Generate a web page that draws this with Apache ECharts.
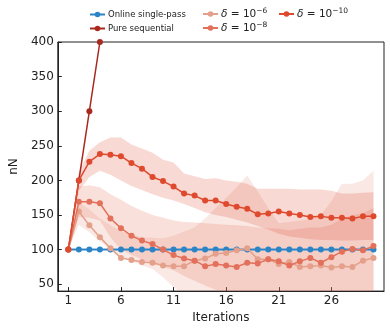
<!DOCTYPE html>
<html>
<head>
<meta charset="utf-8">
<script src="https://cdn.jsdelivr.net/npm/echarts@6/dist/echarts.min.js"></script>
<style>html,body{margin:0;padding:0;background:#fff}#c{width:390px;height:329px}</style>
</head>
<body>
<div id="c"></div>
<script>
const iterations = [1,2,3,4,5,6,7,8,9,10,11,12,13,14,15,16,17,18,19,20,21,22,23,24,25,26,27,28,29,30];
const xTicks = [1,6,11,16,21,26];
const yTicks = [50,100,150,200,250,300,350,400];

const onlineMean = [100,100,100,100,100,100,100,100,100,100,100,100,100,100,100,100,100,100,100,100,100,100,100,100,100,100,100,100,100,100];
const onlineLower = [98,98,98,98,98,98,98,98,98,98,98,98,98,98,98,98,98,98,98,98,98,98,98,98,98,98,98,98,98,98];
const onlineUpper = [102,102,102,102,102,102,102,102,102,102,102,102,102,102,102,102,102,102,102,102,102,102,102,102,102,102,102,102,102,102];

const seqIter = [1,2,3,4];
const seqMean = [100,200,300,400];

const d6Mean  = [100,155,135,118,102,88,85,82,81,77,76,76,84,87,94,95,99,102,86,86,79,82,75,76,77,74,76,75,84,88];
const d6Lower = [100,136,125,112,100,90,83,77,72,60,46,35,30,25,22,20,18,18,18,18,18,18,18,18,18,18,18,18,18,18];
const d6Upper = [100,168,158,145,135,126,122,118,117,116,120,126,132,145,160,175,190,207,184,160,138,140,142,144,150,170,195,195,200,214];

const d8Mean  = [100,169,169,167,145,131,120,113,108,100,92,87,84,76,79,77,75,81,80,86,83,77,83,88,81,89,97,101,99,105];
const d8Lower = [100,147,146,142,118,100,92,86,80,75,70,62,55,48,42,38,35,32,32,32,32,32,32,32,32,34,36,38,38,38];
const d8Upper = [100,191,193,190,180,172,163,156,150,146,142,140,139,138,137,136,135,134,132,131,130,128,130,132,132,136,145,150,152,160];

const d10Mean  = [100,200,227,238,237,235,225,217,205,199,191,181,178,171,171,166,162,159,151,152,155,152,150,147,148,146,146,145,148,148];
const d10Lower = [100,185,205,214,208,200,192,186,180,175,171,166,160,154,150,147,143,139,134,129,123,119,117,115,114,114,113,113,114,114];
const d10Upper = [100,212,243,255,262,262,252,246,240,230,226,210,206,202,203,200,198,195,188,188,188,188,187,187,187,185,181,181,182,183];

const names = ['Online single-pass','Pure sequential','δ = 10^-6','δ = 10^-8','δ = 10^-10'];
const colors = {
  online: '#2b84c6', seq: '#a9291f', d6: '#e4a08b', d8: '#e2705a', d10: '#df4a2f'
};

function pairs(xs, ys){ return xs.map((x,i)=>[x, ys[i]]); }

function band(name, xs, lower, upper, fill){
  return {
    type: 'custom', name: name, silent: true, clip: true, z: 1,
    data: [[xs[0], lower[0]]],
    renderItem: function(params, api){
      const pts = [];
      for (let i=0;i<xs.length;i++) pts.push(api.coord([xs[i], upper[i]]));
      for (let i=xs.length-1;i>=0;i--) pts.push(api.coord([xs[i], lower[i]]));
      const cs = params.coordSys;
      return {
        type: 'polygon', shape: { points: pts },
        style: { fill: fill, stroke: null },
        clipPath: { type: 'rect', shape: { x: cs.x, y: cs.y, width: cs.width, height: cs.height } }
      };
    }
  };
}

function line(name, xs, ys, color, z){
  return {
    type: 'line', name: name, data: pairs(xs, ys), z: z,
    symbol: 'circle', symbolSize: 6, showSymbol: true,
    lineStyle: { color: color, width: 1.5 },
    itemStyle: { color: color },
    emphasis: { disabled: true },
    animation: false, clip: true
  };
}

const richText = {
  t: { fontFamily: 'DejaVu Sans', fontSize: 8.5, color: '#222' },
  g: { fontFamily: 'DejaVu Sans', fontSize: 10.5, fontStyle: 'italic', color: '#222', lineHeight: 14 },
  m: { fontFamily: 'DejaVu Sans', fontSize: 10.5, color: '#222', lineHeight: 14 },
  s: { fontFamily: 'DejaVu Sans', fontSize: 7.5, color: '#222', verticalAlign: 'top', padding: [0,0,5,0], lineHeight: 14 }
};
function fmt(n){
  if (n.indexOf('^') >= 0){
    const exp = n.split('^')[1].replace('-', '−');
    return '{g|δ}{m| = 10}{s|' + exp + '}';
  }
  return '{t|' + n + '}';
}
const legendBase = {
  orient: 'vertical', itemWidth: 15, itemHeight: 7, itemGap: 0, padding: 0,
  formatter: fmt, textStyle: { rich: richText, padding: [0,0,0,-2] },
  selectedMode: false
};
function lg(left, top, name){ return Object.assign({}, legendBase, { left: left, top: top, data: [name] }); }

const option = {
  animation: false,
  backgroundColor: '#fff',
  legend: [
    lg(89, 10, names[0]),
    lg(89, 24, names[1]),
    lg(202, 7, names[2]),
    lg(202, 21, names[3]),
    lg(278, 7, names[4])
  ],
  grid: { left: 48, right: 6, top: 42, bottom: 36, show: true, borderColor: '#222', borderWidth: 1, backgroundColor: 'transparent' },
  xAxis: {
    type: 'value', min: 0, max: 31,
    name: 'Iterations', nameLocation: 'middle', nameGap: 17,
    nameTextStyle: { fontFamily: 'DejaVu Sans', fontSize: 12, color: '#222' },
    axisLine: { show: true, lineStyle: { color: '#222', width: 1 } },
    axisTick: { show: true, inside: true, length: 4, lineStyle: { color: '#222' }, customValues: xTicks },
    axisLabel: { customValues: xTicks, fontFamily: 'DejaVu Sans', fontSize: 12, color: '#222', margin: 4 },
    splitLine: { show: false }
  },
  yAxis: {
    type: 'value', min: 40, max: 400,
    name: 'nN', nameLocation: 'middle', nameGap: 30,
    nameTextStyle: { fontFamily: 'DejaVu Sans', fontSize: 12, color: '#222' },
    axisLine: { show: true, lineStyle: { color: '#222', width: 1 } },
    axisTick: { show: true, inside: true, length: 4, lineStyle: { color: '#222' }, customValues: yTicks },
    axisLabel: { customValues: yTicks, fontFamily: 'DejaVu Sans', fontSize: 12, color: '#222', margin: 4 },
    splitLine: { show: false }
  },
  series: [
    band('band6', iterations, d6Lower, d6Upper, 'rgba(228,140,118,0.20)'),
    band('band8', iterations, d8Lower, d8Upper, 'rgba(226,112,90,0.22)'),
    band('band10', iterations, d10Lower, d10Upper, 'rgba(223,80,55,0.22)'),
    band('bandOnline', iterations, onlineLower, onlineUpper, 'rgba(43,132,198,0.35)'),
    line(names[0], iterations, onlineMean, colors.online, 3),
    line(names[1], seqIter, seqMean, colors.seq, 4),
    line(names[2], iterations, d6Mean, colors.d6, 5),
    line(names[3], iterations, d8Mean, colors.d8, 6),
    line(names[4], iterations, d10Mean, colors.d10, 7)
  ]
};
const chart = echarts.init(document.getElementById('c'), null, { renderer: 'canvas' });
chart.setOption(option);
</script>
</body>
</html>
